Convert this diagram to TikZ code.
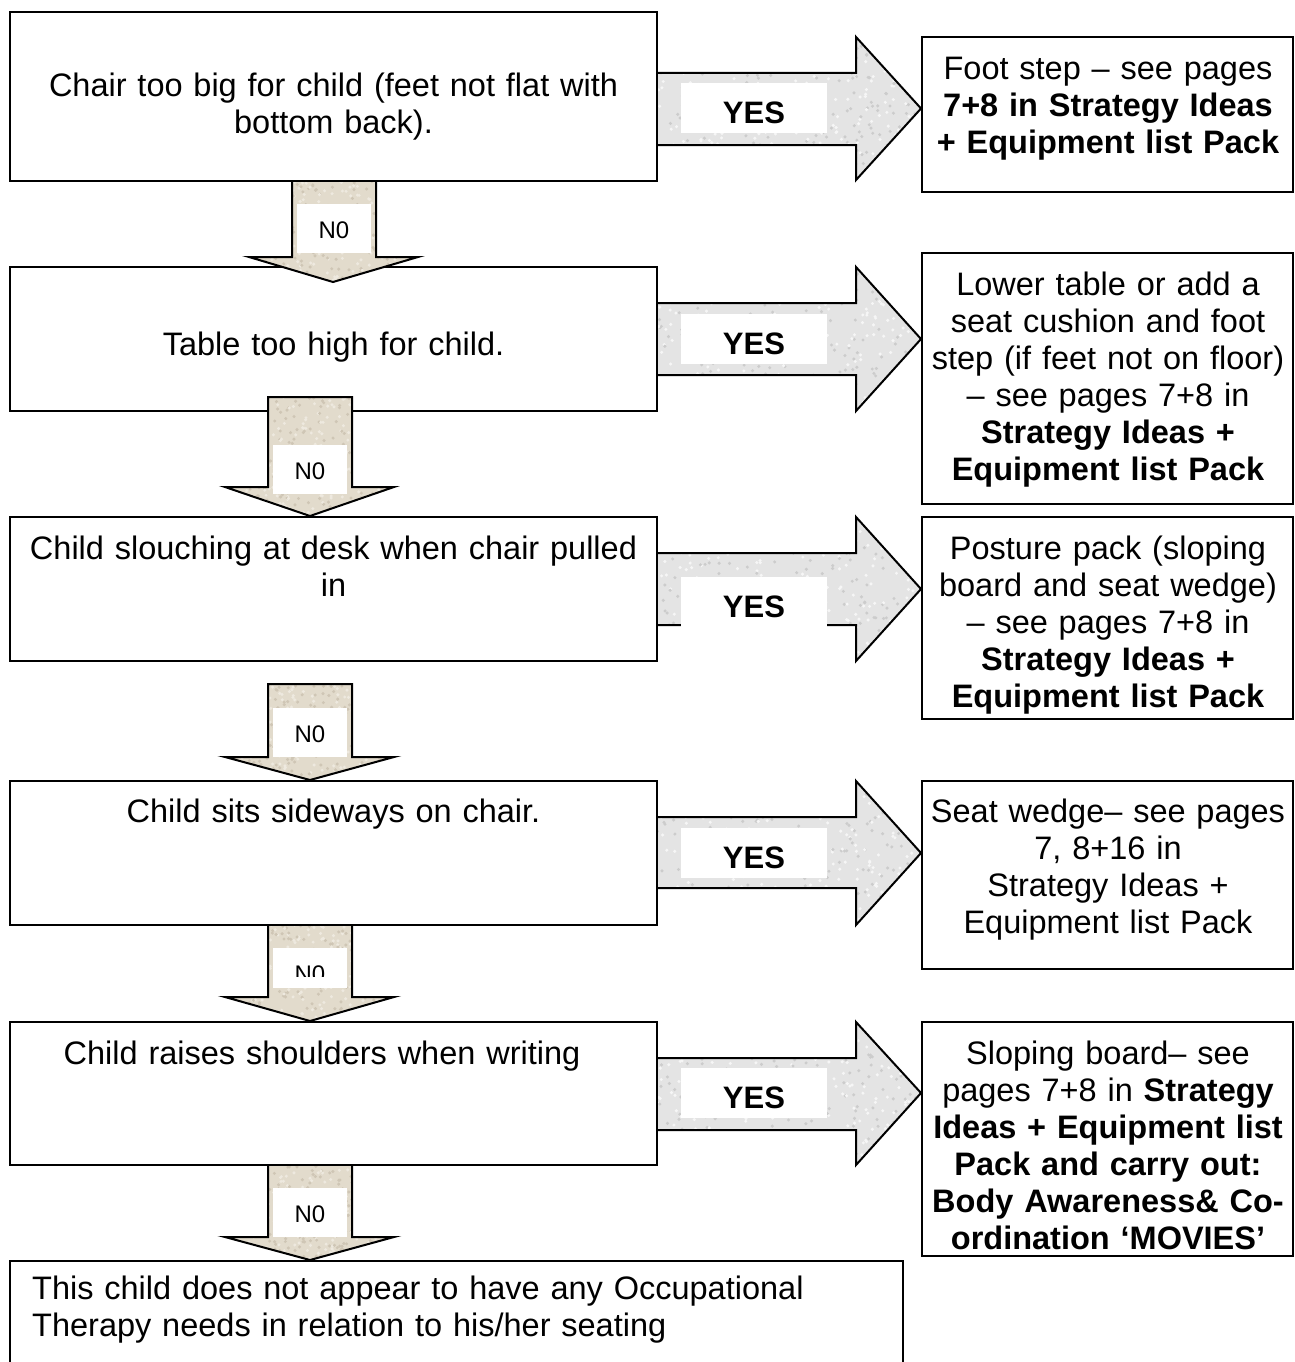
\documentclass[tikz,border=0pt]{standalone}
\usepackage{fontspec}
\setmainfont{Liberation Sans}
\definecolor{yesgray}{RGB}{228,228,228}
\definecolor{yesdark}{RGB}{204,204,204}
\definecolor{yeslight}{RGB}{246,246,246}
\definecolor{nobeige}{RGB}{226,219,204}
\definecolor{nodark}{RGB}{207,198,181}
\definecolor{nolight}{RGB}{238,233,223}
% a grainy block shape: #1 path, #2 base colour, #3/#4 grain colours, #5-#8 bounds
\newcommand{\grainyshape}[8]{%
  \fill[#2] #1;
  \begin{scope}
    \clip #1;
    \foreach \k in {1,...,200}{%
      \pgfmathsetmacro\px{#5+rnd*(#7-#5)}%
      \pgfmathsetmacro\py{#6+rnd*(#8-#6)}%
      \fill[#3] (\px,\py) circle (1.7pt);
      \pgfmathsetmacro\px{#5+rnd*(#7-#5)}%
      \pgfmathsetmacro\py{#6+rnd*(#8-#6)}%
      \fill[#4] (\px,\py) circle (1.7pt);
    }
  \end{scope}
  \draw[line width=2pt] #1;
}
\begin{document}
\begin{tikzpicture}[x=1pt,y=-1pt,
  box/.style={draw=black, line width=2pt, fill=white, rectangle, inner sep=0pt},
  bodytext/.style={font=\fontsize{32.5}{37}\selectfont, align=center, inner sep=0pt, anchor=north},
  yeslabel/.style={fill=white, inner sep=0pt, minimum width=146pt, minimum height=50pt,
    font=\bfseries\fontsize{31}{37}\selectfont, text height=31pt, text depth=0pt},
  nolabel/.style={fill=white, inner sep=0pt, minimum width=74pt, minimum height=49pt,
    font=\fontsize{24}{28}\selectfont, text height=20pt, text depth=0pt}
]
\pgfmathsetseed{4711}
\useasboundingbox (0,0) rectangle (1295,1362);
\fill[white] (0,0) rectangle (1295,1362);
\clip (0,0) rectangle (1295,1362);

% question boxes (left column)
\node[box, minimum width=647pt, minimum height=169pt] (q1) at (333.5,96.5) {};
\node[box, minimum width=647pt, minimum height=144pt] (q2) at (333.5,339) {};
\node[box, minimum width=647pt, minimum height=144pt] (q3) at (333.5,589) {};
\node[box, minimum width=647pt, minimum height=144pt] (q4) at (333.5,853) {};
\node[box, minimum width=647pt, minimum height=143pt] (q5) at (333.5,1093.5) {};
\node[box, minimum width=893pt, minimum height=139pt] (qf) at (456.5,1330.5) {};

% answer boxes (right column)
\node[box, minimum width=371pt, minimum height=155pt] (r1) at (1107.5,114.5) {};
\node[box, minimum width=371pt, minimum height=251pt] (r2) at (1107.5,378.5) {};
\node[box, minimum width=371pt, minimum height=202pt] (r3) at (1107.5,618) {};
\node[box, minimum width=371pt, minimum height=188pt] (r4) at (1107.5,875) {};
\node[box, minimum width=371pt, minimum height=234pt] (r5) at (1107.5,1139) {};

% YES block arrows
\grainyshape{(q1.east |- 0,73) -- (856,73) -- (856,37) -- (r1.west |- 0,108.5) -- (856,180) -- (856,145) -- (q1.east |- 0,145)}{yesgray}{yesdark}{yeslight}{657}{37}{921}{180}
\grainyshape{(q2.east |- 0,303) -- (856,303) -- (856,267) -- (r2.west |- 0,339) -- (856,411) -- (856,375) -- (q2.east |- 0,375)}{yesgray}{yesdark}{yeslight}{657}{267}{921}{411}
\grainyshape{(q3.east |- 0,553) -- (856,553) -- (856,517) -- (r3.west |- 0,589) -- (856,661) -- (856,625) -- (q3.east |- 0,625)}{yesgray}{yesdark}{yeslight}{657}{517}{921}{661}
\grainyshape{(q4.east |- 0,817) -- (856,817) -- (856,781) -- (r4.west |- 0,853) -- (856,925) -- (856,888) -- (q4.east |- 0,888)}{yesgray}{yesdark}{yeslight}{657}{781}{921}{925}
\grainyshape{(q5.east |- 0,1058) -- (856,1058) -- (856,1022) -- (r5.west |- 0,1093) -- (856,1165) -- (856,1130) -- (q5.east |- 0,1130)}{yesgray}{yesdark}{yeslight}{657}{1022}{921}{1165}

% N0 block arrows
\grainyshape{(q1.south -| 292,0) -- (292,257) -- (249,257) -- (333,282) -- (418,257) -- (376,257) -- (q1.south -| 376,0)}{nobeige}{nodark}{nolight}{249}{181}{418}{282}
\grainyshape{(268,397) -- (268,487) -- (225,487) -- (q3.north -| 310,0) -- (394,487) -- (352,487) -- (352,397) -- cycle}{nobeige}{nodark}{nolight}{225}{397}{394}{517}
\grainyshape{(268,684) -- (268,757) -- (225,757) -- (q4.north -| 310,0) -- (394,757) -- (352,757) -- (352,684) -- cycle}{nobeige}{nodark}{nolight}{225}{684}{394}{781}
\grainyshape{(q4.south -| 268,0) -- (268,997) -- (225,997) -- (q5.north -| 310,0) -- (394,997) -- (352,997) -- (q4.south -| 352,0)}{nobeige}{nodark}{nolight}{225}{925}{394}{1022}
\grainyshape{(q5.south -| 268,0) -- (268,1237) -- (225,1237) -- (qf.north -| 310,0) -- (394,1237) -- (352,1237) -- (q5.south -| 352,0)}{nobeige}{nodark}{nolight}{225}{1165}{394}{1261}

% arrow labels
\node[yeslabel] (y1) at (754,108) {YES};
\node[yeslabel] (y2) at (754,339) {YES};
\node[yeslabel] (y3) at (754,601.5) {YES};
\node[yeslabel] (y4) at (754,852.5) {YES};
\node[yeslabel] (y5) at (754,1093) {YES};

\node[nolabel] (n1) at (334,228.5) {N0};
\node[nolabel] (n2) at (310,469) {N0};
\node[nolabel] (n3) at (310,732.5) {N0};
\node[nolabel, minimum height=40pt] (n4) at (310,968) {};
\begin{scope}
  \clip (273,948) rectangle (347,976);
  \node[nolabel, fill=none, text height=17.2pt] (n4t) at (310,973.5) {N0};
\end{scope}
\node[nolabel] (n5) at (310,1212.5) {N0};

% question texts
\node[bodytext, text width=640pt] (q1t) at (333.5,70) {\strut Chair too big for child (feet not flat with\\ bottom back).};
\node[bodytext, text width=640pt] (q2t) at (333.5,329) {\strut Table too high for child.};
\node[bodytext, text width=640pt] (q3t) at (333.5,533) {\strut Child slouching at desk when chair pulled\\ in};
\node[bodytext, text width=640pt] (q4t) at (333.5,796) {\strut Child sits sideways on chair.};
\node[bodytext, text width=640pt] (q5t) at (322,1038) {\strut Child raises shoulders when writing};
\node[bodytext, text width=870pt, align=left, anchor=north west] (qft) at (32,1273) {\strut This child does not appear to have any Occupational\\ Therapy needs in relation to his/her seating};

% answer texts
\node[bodytext, text width=380pt] (r1t) at (1108,53) {\strut Foot step – see pages\\ \textbf{7+8 in Strategy Ideas}\\ \textbf{+ Equipment list Pack}};
\node[bodytext, text width=380pt] (r2t) at (1108,269) {\strut Lower table or add a\\ seat cushion and foot\\ step (if feet not on floor)\\ – see pages 7+8 in\\ \textbf{Strategy Ideas +}\\ \textbf{Equipment list Pack}};
\node[bodytext, text width=380pt] (r3t) at (1108,533) {\strut Posture pack (sloping\\ board and seat wedge)\\ – see pages 7+8 in\\ \textbf{Strategy Ideas +}\\ \textbf{Equipment list Pack}};
\node[bodytext, text width=380pt] (r4t) at (1108,796) {\strut Seat wedge– see pages\\ 7, 8+16 in\\ Strategy Ideas +\\ Equipment list Pack};
\node[bodytext, text width=380pt] (r5t) at (1108,1038) {\strut Sloping board– see\\ pages 7+8 in \textbf{Strategy}\\ \textbf{Ideas + Equipment list}\\ \textbf{Pack and carry out:}\\ \textbf{Body Awareness\& Co-}\\ \textbf{ordination ‘MOVIES’}};
\end{tikzpicture}
\end{document}
